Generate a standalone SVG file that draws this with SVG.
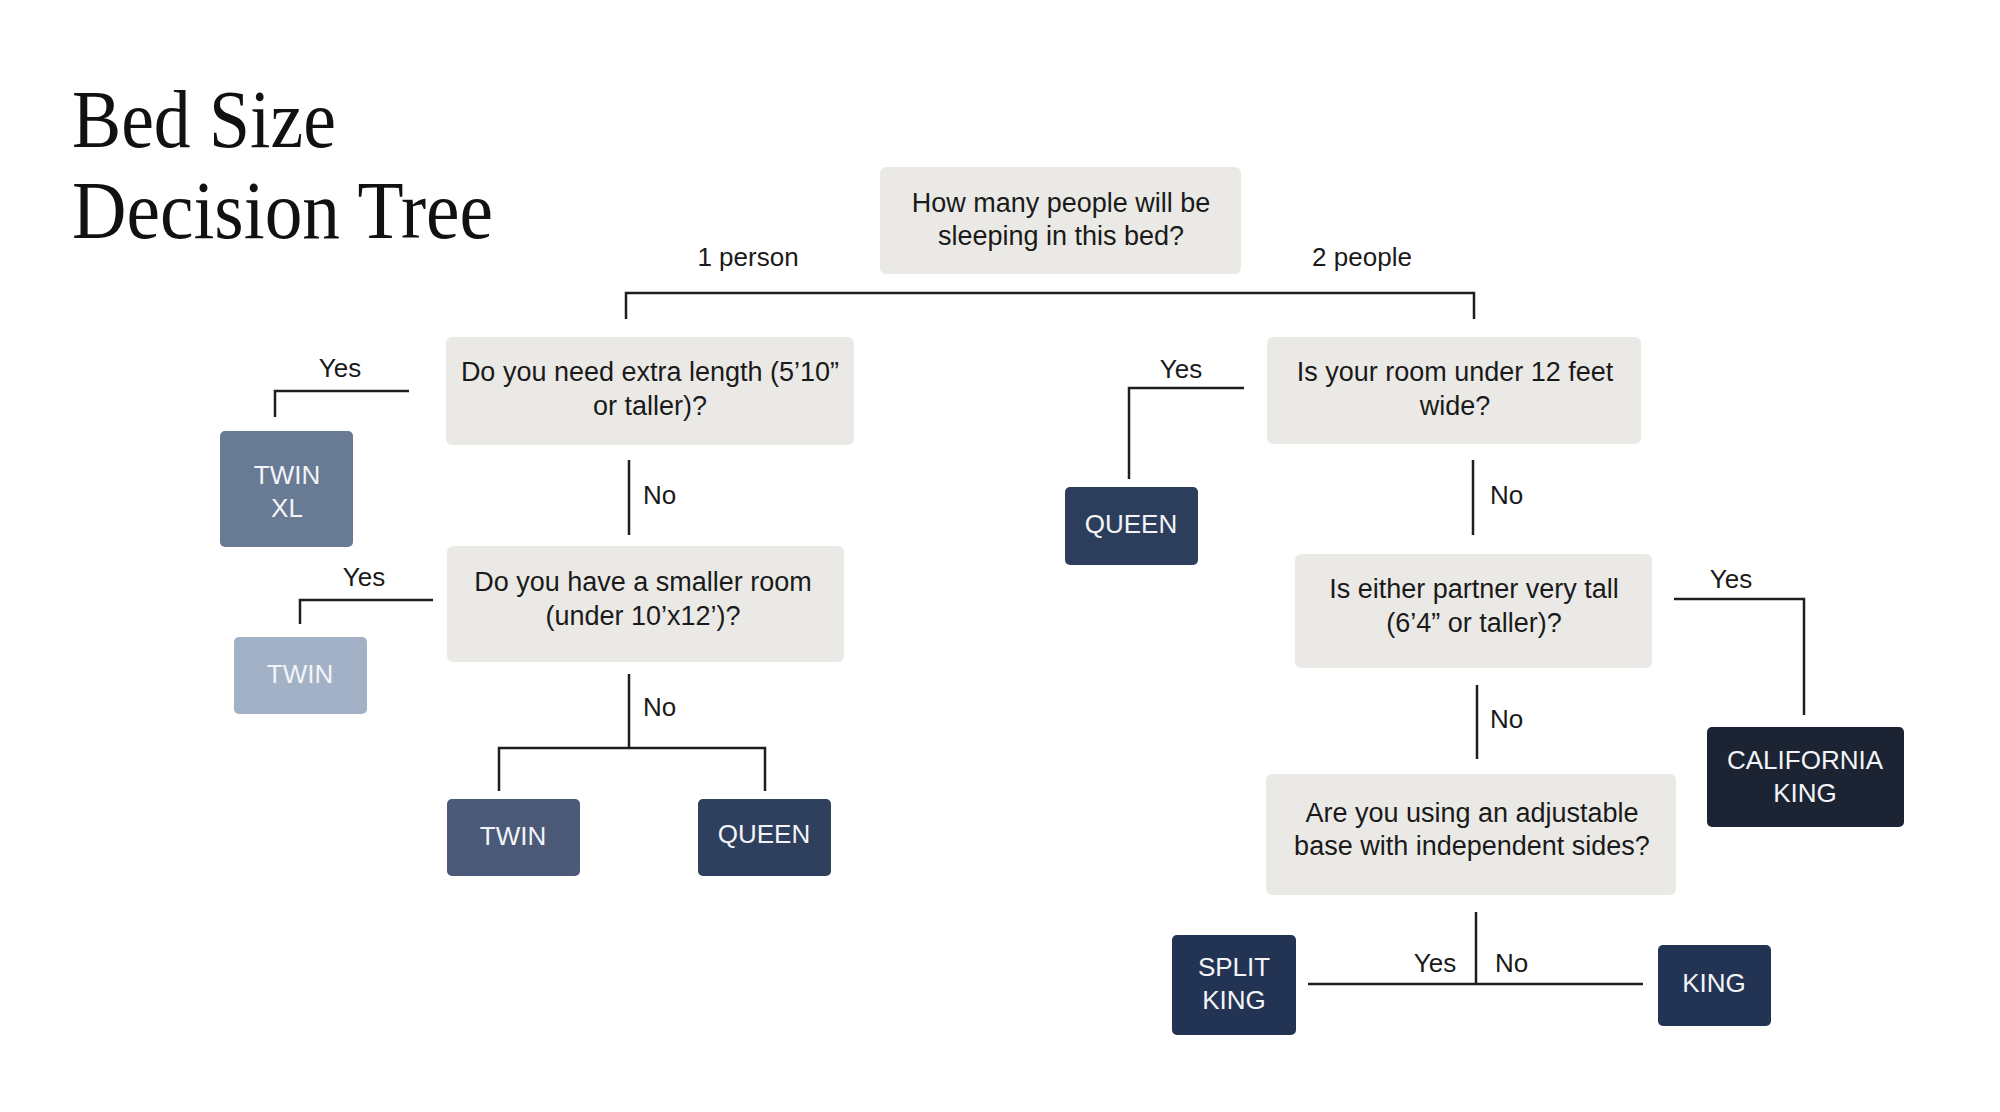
<svg xmlns="http://www.w3.org/2000/svg" width="2000" height="1112" viewBox="0 0 2000 1112">
<style>
.title{font-family:"Liberation Serif","Times New Roman",serif;font-size:82px;fill:#111}
.q{fill:#ebe9e6}
.qt{font-family:"Liberation Sans",Arial,sans-serif;font-size:27px;fill:#1a1a1a;text-anchor:middle}
.lb{font-family:"Liberation Sans",Arial,sans-serif;font-size:26px;fill:#1a1a1a}
.bt{font-family:"Liberation Sans",Arial,sans-serif;font-size:26px;fill:#f2f4f7;text-anchor:middle}
.ln{stroke:#1e1e1e;stroke-width:2.5;fill:none}
</style>
<rect width="2000" height="1112" fill="#ffffff"/>
<g id="title">
<text class="title" x="72" y="147" textLength="264" lengthAdjust="spacingAndGlyphs">Bed Size</text>
<text class="title" x="72" y="238" textLength="421" lengthAdjust="spacingAndGlyphs">Decision Tree</text>
</g>
<g id="connectors">
<path class="ln" d="M626,319 V293 H1474 V319"/>
<path class="ln" d="M409,391 H275 V417"/>
<path class="ln" d="M629,460 V535"/>
<path class="ln" d="M433,600 H300 V624"/>
<path class="ln" d="M629,674 V748 M499,791 V748 H765 V791"/>
<path class="ln" d="M1244,388 H1129 V479"/>
<path class="ln" d="M1473,460 V535"/>
<path class="ln" d="M1674,599 H1804 V715"/>
<path class="ln" d="M1477,685 V759"/>
<path class="ln" d="M1476,912 V984 M1308,984 H1643"/>
<text class="lb" x="748" y="266" text-anchor="middle">1 person</text>
<text class="lb" x="1362" y="266" text-anchor="middle">2 people</text>
<text class="lb" x="340" y="377" text-anchor="middle">Yes</text>
<text class="lb" x="643" y="504">No</text>
<text class="lb" x="364" y="586" text-anchor="middle">Yes</text>
<text class="lb" x="643" y="716">No</text>
<text class="lb" x="1181" y="378" text-anchor="middle">Yes</text>
<text class="lb" x="1490" y="504">No</text>
<text class="lb" x="1731" y="588" text-anchor="middle">Yes</text>
<text class="lb" x="1490" y="728">No</text>
<text class="lb" x="1435" y="972" text-anchor="middle">Yes</text>
<text class="lb" x="1495" y="972">No</text>
</g>
<g id="q-root">
<rect class="q" x="880" y="167" width="361" height="107" rx="6"/>
<text class="qt" x="1061" y="212">How many people will be</text>
<text class="qt" x="1061" y="245">sleeping in this bed?</text>
</g>
<g id="q-length">
<rect class="q" x="446" y="337" width="408" height="108" rx="6"/>
<text class="qt" x="650" y="381">Do you need extra length (5’10”</text>
<text class="qt" x="650" y="415">or taller)?</text>
</g>
<g id="q-room-small">
<rect class="q" x="447" y="546" width="397" height="116" rx="6"/>
<text class="qt" x="643" y="591">Do you have a smaller room</text>
<text class="qt" x="643" y="625">(under 10’x12’)?</text>
</g>
<g id="q-room-wide">
<rect class="q" x="1267" y="337" width="374" height="107" rx="6"/>
<text class="qt" x="1455" y="381">Is your room under 12 feet</text>
<text class="qt" x="1455" y="415">wide?</text>
</g>
<g id="q-tall">
<rect class="q" x="1295" y="554" width="357" height="114" rx="6"/>
<text class="qt" x="1474" y="598">Is either partner very tall</text>
<text class="qt" x="1474" y="632">(6’4” or taller)?</text>
</g>
<g id="q-adjustable">
<rect class="q" x="1266" y="774" width="410" height="121" rx="6"/>
<text class="qt" x="1472" y="822">Are you using an adjustable</text>
<text class="qt" x="1472" y="855">base with independent sides?</text>
</g>
<g id="twin-xl">
<rect x="220" y="431" width="133" height="116" rx="5" fill="#687a94"/>
<text class="bt" x="287" y="484">TWIN</text>
<text class="bt" x="287" y="517">XL</text>
</g>
<g id="twin-light">
<rect x="234" y="637" width="133" height="77" rx="5" fill="#a3b1c6"/>
<text class="bt" x="300" y="683" fill="#eef1f5">TWIN</text>
</g>
<g id="twin">
<rect x="447" y="799" width="133" height="77" rx="5" fill="#4a5a78"/>
<text class="bt" x="513" y="845">TWIN</text>
</g>
<g id="queen-left">
<rect x="698" y="799" width="133" height="77" rx="5" fill="#2f3f5e"/>
<text class="bt" x="764" y="843">QUEEN</text>
</g>
<g id="queen-right">
<rect x="1065" y="487" width="133" height="78" rx="5" fill="#2d3e5d"/>
<text class="bt" x="1131" y="533">QUEEN</text>
</g>
<g id="california-king">
<rect x="1707" y="727" width="197" height="100" rx="5" fill="#1c2434"/>
<text class="bt" x="1805" y="769">CALIFORNIA</text>
<text class="bt" x="1805" y="802">KING</text>
</g>
<g id="split-king">
<rect x="1172" y="935" width="124" height="100" rx="5" fill="#223354"/>
<text class="bt" x="1234" y="976">SPLIT</text>
<text class="bt" x="1234" y="1009">KING</text>
</g>
<g id="king">
<rect x="1658" y="945" width="113" height="81" rx="5" fill="#223354"/>
<text class="bt" x="1714" y="992">KING</text>
</g>
</svg>
